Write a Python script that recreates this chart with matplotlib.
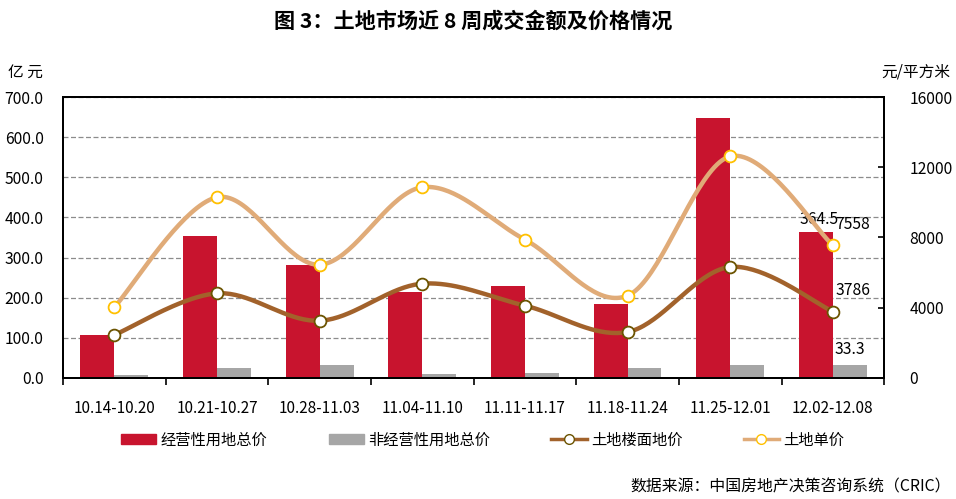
import numpy as np
import matplotlib
matplotlib.use("Agg")
import matplotlib.pyplot as plt
from matplotlib.lines import Line2D
from matplotlib.patches import Patch

plt.rcParams["font.family"] = ["Noto Sans CJK SC", "DejaVu Sans"]
plt.rcParams["axes.unicode_minus"] = False

weeks = ["10.14-10.20", "10.21-10.27", "10.28-11.03", "11.04-11.10",
         "11.11-11.17", "11.18-11.24", "11.25-12.01", "12.02-12.08"]
total_commercial = [107, 354, 282, 213, 228, 185, 648, 364.5]   # 亿元
total_noncommercial = [7.5, 26, 32, 10, 13, 26, 32, 33.3]       # 亿元
floor_price = [2450, 4820, 3260, 5370, 4120, 2620, 6320, 3786]  # 元/平方米
unit_price = [4030, 10290, 6450, 10860, 7880, 4690, 12620, 7558]

RED = "#C8142E"
GRAY = "#A6A6A6"
BROWN = "#A2622B"
TAN = "#E0AB78"


def smooth(x, y, n=40):
    # excel-like smoothed line: bezier segments through the points
    p = np.column_stack([x, y]).astype(float)
    p = np.vstack([p[0], p, p[-1]])
    out = []
    t = np.linspace(0, 1, n)[:, None]
    for i in range(1, len(p) - 2):
        p0, p1, p2, p3 = p[i - 1], p[i], p[i + 1], p[i + 2]
        c1 = p1 + (p2 - p0) / 6
        c2 = p2 - (p3 - p1) / 6
        seg = ((1 - t) ** 3) * p1 + 3 * ((1 - t) ** 2) * t * c1 \
            + 3 * (1 - t) * t ** 2 * c2 + t ** 3 * p2
        out.append(seg)
    out = np.vstack(out)
    return out[:, 0], out[:, 1]


fig = plt.figure(figsize=(9.56, 4.99), dpi=100)
ax = fig.add_axes([0.0659, 0.2425, 0.859, 0.5631])
ax2 = ax.twinx()

x = np.arange(len(weeks))
w = 0.33
ax.bar(x - w / 2, total_commercial, w, color=RED, zorder=2)
ax.bar(x + w / 2, total_noncommercial, w, color=GRAY, zorder=2)

ax.set_xlim(-0.5, len(weeks) - 0.5)
ax.set_ylim(0, 700)
ax.set_yticks(np.arange(0, 701, 100))
ax.set_yticklabels([f"{v:.1f}" for v in range(0, 701, 100)], fontsize=11.3)
ax.tick_params(axis="y", length=0, pad=14)
ax.set_xticks(x)
ax.set_xticklabels(weeks, fontsize=11)
ax.set_xticks(np.arange(-0.5, len(weeks), 1), minor=True)
ax.tick_params(axis="x", which="major", length=0, pad=16)
ax.tick_params(axis="x", which="minor", length=5, width=1.2, direction="out")
ax.yaxis.grid(True, color="#8c8c8c", linestyle=(0, (4, 2)), linewidth=0.9)
ax.set_axisbelow(True)
for s in ax.spines.values():
    s.set_color("black")
    s.set_linewidth(1.4)

sx, sy = smooth(x, unit_price)
ax2.plot(sx, sy, color=TAN, lw=3.2, solid_capstyle="round", zorder=3)
ax2.plot(x, unit_price, "o", ms=8.5, mfc="white", mec="#FFC000", mew=1.3, zorder=4)
sx, sy = smooth(x, floor_price)
ax2.plot(sx, sy, color=BROWN, lw=3.2, solid_capstyle="round", zorder=3)
ax2.plot(x, floor_price, "o", ms=8.5, mfc="white", mec="#6B5300", mew=1.3, zorder=4)

ax2.set_ylim(0, 16000)
ax2.set_yticks(np.arange(0, 16001, 4000))
ax2.set_yticklabels([str(v) for v in range(0, 16001, 4000)], fontsize=11.3)
ax2.tick_params(axis="y", direction="in", length=4, width=1.2, pad=18)
for s in ax2.spines.values():
    s.set_color("black")
    s.set_linewidth(1.4)

# data labels on last week
last = len(weeks) - 1
ax.annotate(f"{total_commercial[-1]}", (last - w / 2, total_commercial[-1]),
            xytext=(2, 3), textcoords="offset points", ha="center", va="bottom", fontsize=11.3)
ax.annotate(f"{total_noncommercial[-1]}", (last + w / 2, total_noncommercial[-1]),
            xytext=(0, 5), textcoords="offset points", ha="center", va="bottom", fontsize=11.3)
ax2.annotate(f"{unit_price[-1]}", (last, unit_price[-1]),
             xytext=(2, 9), textcoords="offset points", ha="left", va="bottom", fontsize=11.3)
ax2.annotate(f"{floor_price[-1]}", (last, floor_price[-1]),
             xytext=(2, 9), textcoords="offset points", ha="left", va="bottom", fontsize=11.3)

fig.text(0.495, 0.958, "图 3：土地市场近 8 周成交金额及价格情况", ha="center", va="center",
         fontsize=15.2, fontweight="bold")
fig.text(0.008, 0.856, "亿 元", ha="left", va="center", fontsize=11.3)
fig.text(0.994, 0.856, "元/平方米", ha="right", va="center", fontsize=11.3)
fig.text(0.995, 0.024, "数据来源：中国房地产决策咨询系统（CRIC）", ha="right", va="center",
         fontsize=11.4)

handles = [
    Patch(color=RED),
    Patch(color=GRAY),
    Line2D([], [], color=BROWN, lw=2.5, marker="o", ms=7, mfc="white", mec="#6B5300"),
    Line2D([], [], color=TAN, lw=2.5, marker="o", ms=7, mfc="white", mec="#FFC000"),
]
labels = ["经营性用地总价", "非经营性用地总价", "土地楼面地价", "土地单价"]
fig.legend(handles, labels, loc="center", bbox_to_anchor=(0.505, 0.118), ncol=4,
           frameon=False, fontsize=11, handlelength=2.3, handleheight=0.6,
           handletextpad=0.3, columnspacing=4.0)

fig.savefig("out.png", dpi=100)
